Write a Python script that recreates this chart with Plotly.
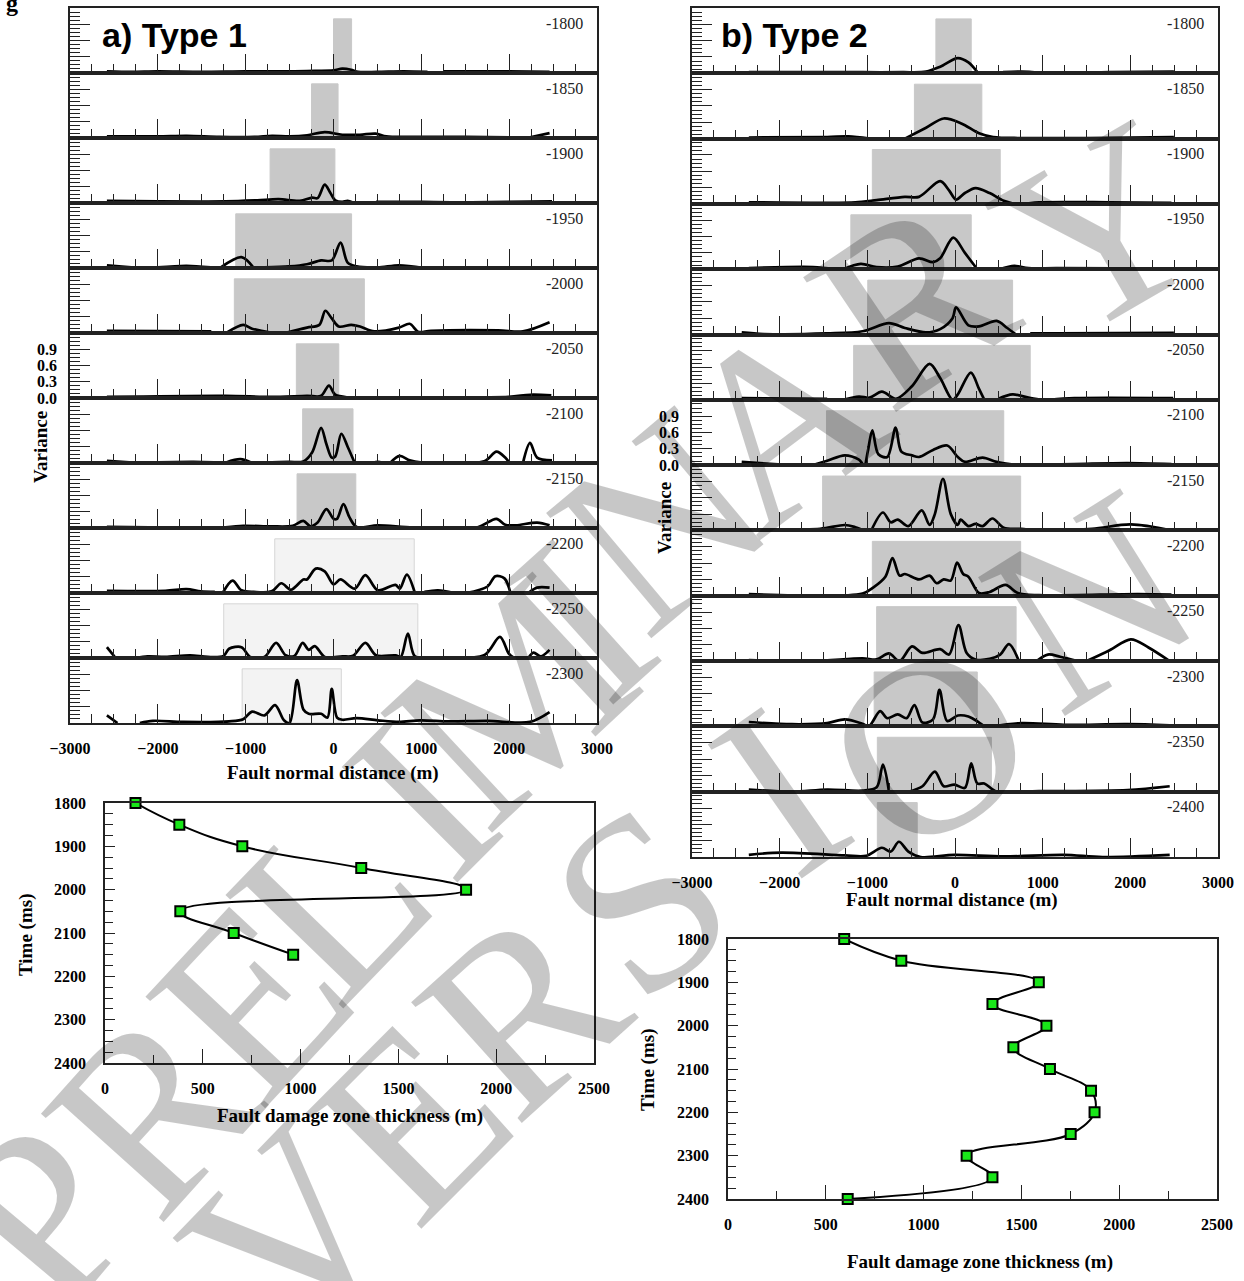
import plotly.graph_objects as go

W, H = 1244, 1281

# ---------------- DATA ----------------
T1_TIMES = [-1800, -1850, -1900, -1950, -2000, -2050, -2100, -2150, -2200, -2250, -2300]
T2_TIMES = [-1800, -1850, -1900, -1950, -2000, -2050, -2100, -2150, -2200, -2250, -2300, -2350, -2400]

# variance curves (fault normal distance m, variance); None = gap
T1_1800 = [(-2580,0.03),(-2300,0.02),(-2000,0.03),(-1500,0.02),(-1000,0.03),(-500,0.03),(-200,0.04),(0,0.05),(100,0.08),(200,0.06),(280,0.02),(500,0.02),(800,0.03),(1070,0.02),None,(1250,0.03),(1600,0.03),(2000,0.03),(2460,0.02)]
T1_1850 = [(-2580,0.03),(-2000,0.03),(-1670,0.04),(-1300,0.02),(-900,0.02),(-700,0.04),(-500,0.03),(-300,0.05),(-100,0.11),(100,0.06),(300,0.06),(480,0.08),(600,0.03),(900,0.02),(1500,0.02),(2000,0.01),None,(2200,0.0),(2460,0.09)]
T1_1900 = [(-2580,0.04),(-2000,0.03),(-1230,0.03),(-867,0.05),(-625,0.07),(-383,0.04),(-242,0.10),(-181,0.09),(-100,0.34),(-40,0.2),(20,0.05),(100,0.02),(160,0.04),(220,0.01),None,(484,0.02),(1000,0.02),(1342,0.01),None,(1572,0.01),(2000,0.02),(2488,0.03)]
T1_1950 = [(-2580,0.05),(-2197,0.0),None,(-2004,0.01),(-1673,0.04),(-1399,0.01),None,(-1282,0.01),(-1048,0.2),(-907,0.0),None,(-786,0.01),(-504,0.03),(-302,0.07),(-141,0.14),(-20,0.14),(81,0.47),(161,0.1),(262,0.03),(504,0.01),(746,0.05),(1028,0.0),None,(1230,0.01),(2480,0.01)]
T1_2000 = [(-2580,0.04),(-1391,0.03),None,(-1222,0.0),(-1028,0.15),(-927,0.08),(-685,0.0),None,(-552,0.0),(-302,0.1),(-161,0.15),(-93,0.41),(-20,0.27),(60,0.12),(202,0.15),(302,0.12),(464,0.03),(746,0.1),(867,0.17),(968,0.02),(1109,0.04),(1875,0.05),(2157,0.03),(2460,0.2)]
T1_2050 = [(-2580,0.02),(-1230,0.04),(-705,0.02),(-302,0.04),(-141,0.04),(-52,0.23),(20,0.06),(181,0.01),(907,0.01),(1996,0.02),(2238,0.06),(2480,0.05)]
T1_2100 = [(-2580,0.04),(-2197,0.0),None,(-2077,0.01),(-1592,0.02),(-1363,0.01),None,(-1222,0.01),(-1060,0.07),(-927,0.0),None,(-806,0.01),(-504,0.02),(-343,0.03),(-242,0.2),(-141,0.65),(-81,0.35),(-20,0.1),(20,0.12),(89,0.54),(161,0.3),(242,0.0),None,(444,0.0),(504,0.02),(564,0.0),None,(645,0.0),(754,0.13),(867,0.05),(988,0.01),(1714,0.03),(1855,0.21),(1955,0.1),(2004,0.0),None,(2157,0.0),(2238,0.37),(2318,0.1),(2488,0.05)]
T1_2150 = [(-2580,0.02),(-1383,0.0),None,(-1230,0.01),(-1028,0.04),(-705,0.03),(-464,0.04),(-343,0.13),(-262,0.03),(-181,0.1),(-81,0.35),(0,0.17),(40,0.17),(113,0.44),(181,0.2),(262,0.02),(504,0.05),(907,0.01),(1633,0.01),(1855,0.17),(1955,0.06),(2077,0.05),(2318,0.1),(2460,0.05)]
T1_2200 = [(-2580,0.04),(-1915,0.04),(-1673,0.07),(-1512,0.03),(-1351,0.02),None,(-1262,0.0),(-1149,0.23),(-1048,0.05),(-907,0.02),(-705,0.03),(-593,0.18),(-484,0.06),(-343,0.25),(-302,0.25),(-202,0.45),(-100,0.4),(0,0.16),(80,0.25),(242,0.08),(363,0.33),(504,0.05),(706,0.15),(754,0.08),(835,0.34),(927,0.0),None,(1036,0.02),(1189,0.05),(1371,0.0),None,(1512,0.0),(1754,0.12),(1843,0.31),(1946,0.27),(2016,0.0),None,(2218,0.0),(2318,0.1),(2460,0.1)]
T1_2250 = [(-2580,0.2),(-2480,0.0),None,(-2246,0.0),(-2117,0.03),(-1915,0.02),(-1633,0.05),(-1431,0.02),(-1250,0.04),(-1189,0.17),(-1048,0.2),(-948,0.02),(-786,0.02),(-653,0.28),(-544,0.05),(-444,0.04),(-351,0.28),(-282,0.15),(-213,0.22),(-100,0.02),(101,0.03),(222,0.04),(363,0.28),(484,0.05),(706,0.05),(766,0.02),(847,0.45),(927,0.03),(1109,0.01),(1714,0.05),(1895,0.39),(1996,0.08),(2056,0.0),None,(2218,0.0),(2278,0.1),(2359,0.03),(2460,0.15)]
T1_2300 = [(-2580,0.14),(-2460,0.0),None,(-2205,0.0),(-2056,0.04),(-1713,0.02),(-1189,0.03),(-1028,0.07),(-927,0.21),(-786,0.14),(-665,0.33),(-564,0.05),(-500,0.0),(-415,0.79),(-343,0.25),(-282,0.17),(-141,0.17),(-69,0.1),(-20,0.63),(40,0.1),(101,0.06),(262,0.09),(504,0.05),(746,0.02),(988,0.05),(1310,0.03),(1754,0.04),(2238,0.02),(2460,0.2)]

T2_1800 = [(-2352,0.02),(-1500,0.02),(-1055,0.02),(-600,0.02),(-330,0.03),(-169,0.12),(32,0.28),(153,0.2),(266,0.0),None,(548,0.02),(757,0.03),(979,0.01),None,(1261,0.0),(1764,0.02),(2497,0.03)]
T2_1850 = [(-2352,0.02),(-1458,0.03),(-1216,0.04),(-975,0.0),None,(-572,0.0),(-330,0.2),(-129,0.37),(72,0.28),(274,0.1),(435,0.03),(757,0.01),(1500,0.01),(2497,0.03)]
T2_1900 = [(-2352,0.03),(-1458,0.02),(-1136,0.03),(-894,0.07),(-572,0.13),(-411,0.13),(-169,0.42),(-68,0.25),(12,0.08),(113,0.2),(234,0.29),(395,0.2),(556,0.06),(717,0.0),(959,0.03),(1764,0.03),(2469,0.02)]
T2_1950 = [(-2352,0.02),(-1619,0.04),(-1377,0.0),None,(-1277,0.0),(-1075,0.1),(-894,0.04),(-653,0.05),(-411,0.2),(-250,0.13),(-169,0.2),(-20,0.58),(113,0.3),(254,0.0),None,(508,0.0),(677,0.06),(838,0.02),(1160,0.02),(2497,0.01)]
T2_2000 = [(-2433,0.04),(-2183,0.01),(-1458,0.02),(-1055,0.06),(-753,0.21),(-572,0.12),(-330,0.04),(-169,0.1),(-28,0.3),(12,0.5),(153,0.17),(274,0.15),(475,0.25),(596,0.12),(697,0.0),None,(858,0.02),(1160,0.02),(2497,0.03)]
T2_2050 = [(-2433,0.03),(-1458,0.02),None,(-1277,0.0),(-1095,0.06),(-975,0.04),(-834,0.15),(-673,0.02),(-491,0.25),(-290,0.66),(-169,0.4),(-28,0.0),(32,0.1),(181,0.5),(274,0.2),(335,0.0),None,(495,0.02),(657,0.1),(838,0.04),(979,0.0),None,(1080,0.0),(1362,0.03),(2489,0.03)]
T2_2100 = [(-2433,0.06),(-1881,0.0),None,(-1619,0.0),(-1458,0.08),(-1257,0.18),(-1096,0.1),(-1035,0.0),(-995,0.25),(-943,0.64),(-874,0.2),(-773,0.15),(-677,0.69),(-612,0.25),(-491,0.18),(-411,0.15),(-250,0.28),(-89,0.36),(32,0.15),(113,0.06),(314,0.14),(475,0.06),(697,0.0),None,(737,0.0),(1362,0.02),(1966,0.04),(2469,0.02)]
T2_2150 = [(-2433,0.02),(-1539,0.03),(-1257,0.1),(-1136,0.06),(-1035,0.0),None,(-955,0.0),(-822,0.33),(-733,0.15),(-653,0.2),(-532,0.08),(-379,0.37),(-290,0.1),(-230,0.3),(-137,0.95),(-48,0.3),(32,0.1),(64,0.2),(153,0.08),(234,0.12),(314,0.08),(427,0.22),(556,0.05),(757,0.03),(959,0.0),(1563,0.03),(2006,0.11),(2469,0.0)]
T2_2200 = [(-2352,0.03),(-1055,0.04),(-934,0.15),(-794,0.35),(-713,0.69),(-632,0.37),(-572,0.4),(-411,0.3),(-290,0.37),(-209,0.23),(-129,0.3),(-48,0.28),(24,0.61),(93,0.4),(153,0.35),(274,0.05),(395,0.07),(576,0.2),(717,0.05),(959,0.01),(2087,0.03),(2469,0.02)]
T2_2250 = [(-2352,0.02),(-1619,0.0),(-1055,0.05),(-894,0.03),(-753,0.14),(-632,0.0),(-491,0.27),(-371,0.15),(-169,0.22),(-68,0.12),(40,0.66),(133,0.15),(234,0.03),(395,0.04),(516,0.12),(616,0.31),(729,0.0),None,(930,0.0),(1059,0.12),(1200,0.08),(1394,0.0),None,(1502,0.0),(1764,0.2),(2006,0.4),(2207,0.25),(2449,0.0)]
T2_2300 = [(-2352,0.08),(-1861,0.04),(-1458,0.06),(-1257,0.13),(-1055,0.05),(-983,0.0),(-854,0.28),(-773,0.15),(-653,0.22),(-552,0.15),(-463,0.39),(-371,0.07),(-250,0.13),(-177,0.67),(-89,0.1),(32,0.2),(153,0.18),(274,0.07),(334,0.0),None,(427,0.0),(757,0.06),(1241,0.03),(1966,0.04),(2449,0.02)]
T2_2350 = [(-2352,0.04),(-1861,0.0),(-1458,0.04),(-1055,0.02),(-894,0.08),(-822,0.5),(-753,0.0),None,(-532,0.0),(-371,0.1),(-230,0.37),(-129,0.1),(-8,0.13),(113,0.07),(185,0.52),(254,0.15),(334,0.15),(475,0.0),(959,0.01),(1966,0.03),(2449,0.1)]
T2_2400 = [(-2352,0.04),(-1982,0.08),(-1257,0.03),(-1015,0.02),(-834,0.17),(-733,0.1),(-640,0.28),(-532,0.1),(-391,0.0),(-8,0.04),(556,0.01),(1241,0.04),(1683,0.0),(2449,0.04)]

T1_CURVES = [T1_1800, T1_1850, T1_1900, T1_1950, T1_2000, T1_2050, T1_2100, T1_2150, T1_2200, T1_2250, T1_2300]
T2_CURVES = [T2_1800, T2_1850, T2_1900, T2_1950, T2_2000, T2_2050, T2_2100, T2_2150, T2_2200, T2_2250, T2_2300, T2_2350, T2_2400]

# damage-zone extents (m)
T1_ZONE_LO = [0, -250, -722, -1113, -1129, -423, -351, -415, -669, -1250, -1040]
T1_ZONE_HI = [206, 52, 16, 206, 351, 60, 222, 254, 919, 960, 89]
T2_ZONE_LO = [-218, -463, -943, -1188, -995, -1156, -1466, -1510, -943, -894, -922, -886, -886]
T2_ZONE_HI = [185, 306, 516, 185, 657, 858, 556, 749, 749, 697, 254, 415, -431]
ZONE_TOP = 1.0

# thickness vs time
T1_THICK_TIME = [1800, 1850, 1900, 1950, 2000, 2050, 2100, 2150]
T1_THICK = [156, 380, 702, 1310, 1846, 385, 658, 962]
T2_THICK_TIME = [1800, 1850, 1900, 1950, 2000, 2050, 2100, 2150, 2200, 2250, 2300, 2350, 2400]
T2_THICK = [594, 886, 1589, 1352, 1628, 1459, 1646, 1856, 1874, 1752, 1220, 1352, 612]

X_TICKS = [-3000, -2000, -1000, 0, 1000, 2000, 3000]
V_TICKS = [0.0, 0.3, 0.6, 0.9]
THICK_XTICKS = [0, 500, 1000, 1500, 2000, 2500]
TIME_TICKS = [1800, 1900, 2000, 2100, 2200, 2300, 2400]

# ---------------- STYLE ----------------
SERIF = "Liberation Serif"
SANS = "Liberation Sans"
T1_LIGHT = [False]*8 + [True]*3
DARK_FILL = "#c8c8c8"
LIGHT_FILL = "#f3f3f3"

fig = go.Figure()
layout = {}
shapes = []
annotations = []
counter = [0]


def ids(k):
    s = '' if k == 1 else str(k)
    return 'x' + s, 'y' + s, 'xaxis' + s, 'yaxis' + s


def split(curve):
    xs, ys = [], []
    for p in curve:
        if p is None:
            xs.append(None); ys.append(None)
        else:
            xs.append(p[0]); ys.append(p[1])
    return xs, ys


def stack(times, curves, lo, hi, light, px0, px1, ptop, pbot, label_idx):
    n = len(times)
    h = (pbot - ptop) / n
    for i in range(n):
        counter[0] += 1
        k = counter[0]
        xid, yid, xk, yk = ids(k)
        t = ptop + i * h
        b = t + h
        xs, ys = split(curves[i])
        fig.add_trace(go.Scatter(x=xs, y=ys, xaxis=xid, yaxis=yid, mode='lines',
                                 line=dict(color='black', width=2.7, shape='spline', smoothing=0.9),
                                 connectgaps=False, showlegend=False, hoverinfo='skip'))
        last = (i == n - 1)
        layout[xk] = dict(domain=[px0 / W, px1 / W], anchor=yid, range=[-3000, 3000], automargin=False,
                          tickvals=X_TICKS, ticks='inside', ticklen=19, tickwidth=1, tickcolor='#222',
                          minor=dict(dtick=250, tick0=0, ticks='inside', ticklen=9, tickwidth=1, tickcolor='#222'),
                          showticklabels=last, tickfont=dict(family=SERIF, size=16, color='black', weight='bold'),
                          ticklabelstandoff=10,
                          showline=True, linecolor='#222', linewidth=1.5, mirror=True,
                          showgrid=False, zeroline=False, fixedrange=True)
        layout[yk] = dict(domain=[1 - b / H, 1 - t / H], anchor=xid, range=[0, 1.2], automargin=False,
                          tickvals=V_TICKS, tickformat='.1f', ticks='inside', ticklen=20, tickwidth=1, tickcolor='#222',
                          minor=dict(dtick=0.075, tick0=0, ticks='inside', ticklen=10, tickwidth=1, tickcolor='#222'),
                          showticklabels=(i == label_idx),
                          tickfont=dict(family=SERIF, size=16, color='black', weight='bold'),
                          ticklabelstandoff=8,
                          showline=True, linecolor='#222', linewidth=1.5, mirror=True,
                          showgrid=False, zeroline=False, fixedrange=True)
        lt = light[i]
        shapes.append(dict(type='rect', xref=xid, yref=yid, x0=lo[i], x1=hi[i], y0=0, y1=ZONE_TOP,
                           fillcolor=LIGHT_FILL if lt else DARK_FILL,
                           line=dict(color='#d6d6d6' if lt else DARK_FILL, width=1), layer='below'))
        annotations.append(dict(xref=xid + ' domain', yref=yid + ' domain', x=0.978, y=0.93,
                                xanchor='right', yanchor='top', showarrow=False, text=str(times[i]),
                                font=dict(family=SERIF, size=16, color='#222')))


def thick(xv, yv, px0, px1, ptop, pbot, smooth):
    counter[0] += 1
    k = counter[0]
    xid, yid, xk, yk = ids(k)
    fig.add_trace(go.Scatter(x=xv, y=yv, xaxis=xid, yaxis=yid, mode='lines+markers',
                             line=dict(color='black', width=2, shape='spline', smoothing=smooth),
                             marker=dict(symbol='square', size=10, color='#19e619',
                                         line=dict(color='black', width=2)),
                             showlegend=False, hoverinfo='skip', cliponaxis=False))
    layout[xk] = dict(domain=[px0 / W, px1 / W], anchor=yid, range=[0, 2500], tickvals=THICK_XTICKS, automargin=False,
                      ticks='inside', ticklen=14, tickwidth=1, tickcolor='#222',
                      minor=dict(dtick=250, tick0=0, ticks='inside', ticklen=8, tickwidth=1, tickcolor='#222'),
                      tickfont=dict(family=SERIF, size=16, color='black', weight='bold'), ticklabelstandoff=10,
                      showline=True, linecolor='#222', linewidth=1.5, mirror=True,
                      showgrid=False, zeroline=False, fixedrange=True)
    layout[yk] = dict(domain=[1 - pbot / H, 1 - ptop / H], anchor=xid, range=[2400, 1800], tickvals=TIME_TICKS,
                      automargin=False,
                      ticks='inside', ticklen=10, tickwidth=1, tickcolor='#222',
                      minor=dict(dtick=25, tick0=1800, ticks='inside', ticklen=8, tickwidth=1, tickcolor='#222'),
                      tickfont=dict(family=SERIF, size=16, color='black', weight='bold'), ticklabelstandoff=14,
                      showline=True, linecolor='#222', linewidth=1.5, mirror=True,
                      showgrid=False, zeroline=False, fixedrange=True)


stack(T1_TIMES, T1_CURVES, T1_ZONE_LO, T1_ZONE_HI, T1_LIGHT, 70, 597, 8, 723, 5)
stack(T2_TIMES, T2_CURVES, T2_ZONE_LO, T2_ZONE_HI, [False]*13, 692, 1218, 8, 857, 6)
thick(T1_THICK, T1_THICK_TIME, 105, 594, 803, 1063, 1.3)
thick(T2_THICK, T2_THICK_TIME, 728, 1217, 939, 1199, 1.1)


def ptxt(text, x, y, size, family=SERIF, angle=0, color='black', xanchor='center'):
    annotations.append(dict(xref='paper', yref='paper', x=x / W, y=1 - y / H, text=text, showarrow=False,
                            textangle=angle, xanchor=xanchor, yanchor='middle',
                            font=dict(family=family, size=size, color=color)))


ptxt('<b>a) Type 1</b>', 100, 35, 34, SANS, xanchor='left')
ptxt('<b>b) Type 2</b>', 719, 35, 34, SANS, xanchor='left')
ptxt('<b>g</b>', 12, 3, 24)
ptxt('<b>Variance</b>', 41, 447, 19, angle=-90)
ptxt('<b>Variance</b>', 664, 518, 19, angle=-90)
ptxt('<b>Fault normal distance (m)</b>', 333, 773, 19)
ptxt('<b>Fault normal distance (m)</b>', 952, 900, 19)
ptxt('<b>Time (ms)</b>', 26, 935, 19, angle=-90)
ptxt('<b>Time (ms)</b>', 648, 1070, 19, angle=-90)
ptxt('<b>Fault damage zone thickness (m)</b>', 350, 1116, 19)
ptxt('<b>Fault damage zone thickness (m)</b>', 980, 1262, 19)

# watermark
WM = [("P", 40, 1215, -50), ("R", 150, 1110, -48), ("E", 250, 1000, -47), ("L", 330, 900, -46),
      ("I", 420, 800, -45), ("M", 510, 700, -43), ("I", 580, 620, -42), ("N", 660, 520, -40),
      ("A", 780, 420, -37), ("R", 910, 300, -34), ("Y", 1100, 230, -30),
      ("V", 290, 1230, -46), ("E", 410, 1120, -45), ("R", 520, 1010, -42), ("S", 640, 900, -38),
      ("I", 780, 790, -35), ("O", 928, 745, -33), ("N", 1090, 600, -32)]
for ch, x, y, a in WM:
    ptxt(ch, x, y, 250, SERIF, angle=a, color='rgba(0,0,0,0.22)')

fig.update_layout(width=W, height=H, margin=dict(l=0, r=0, t=0, b=0, autoexpand=False),
                  paper_bgcolor='white', plot_bgcolor='rgba(0,0,0,0)',
                  shapes=shapes, annotations=annotations, showlegend=False, **layout)
fig.write_html("out.html", config={'displayModeBar': False},
               post_script="document.body.style.margin='0px';")
